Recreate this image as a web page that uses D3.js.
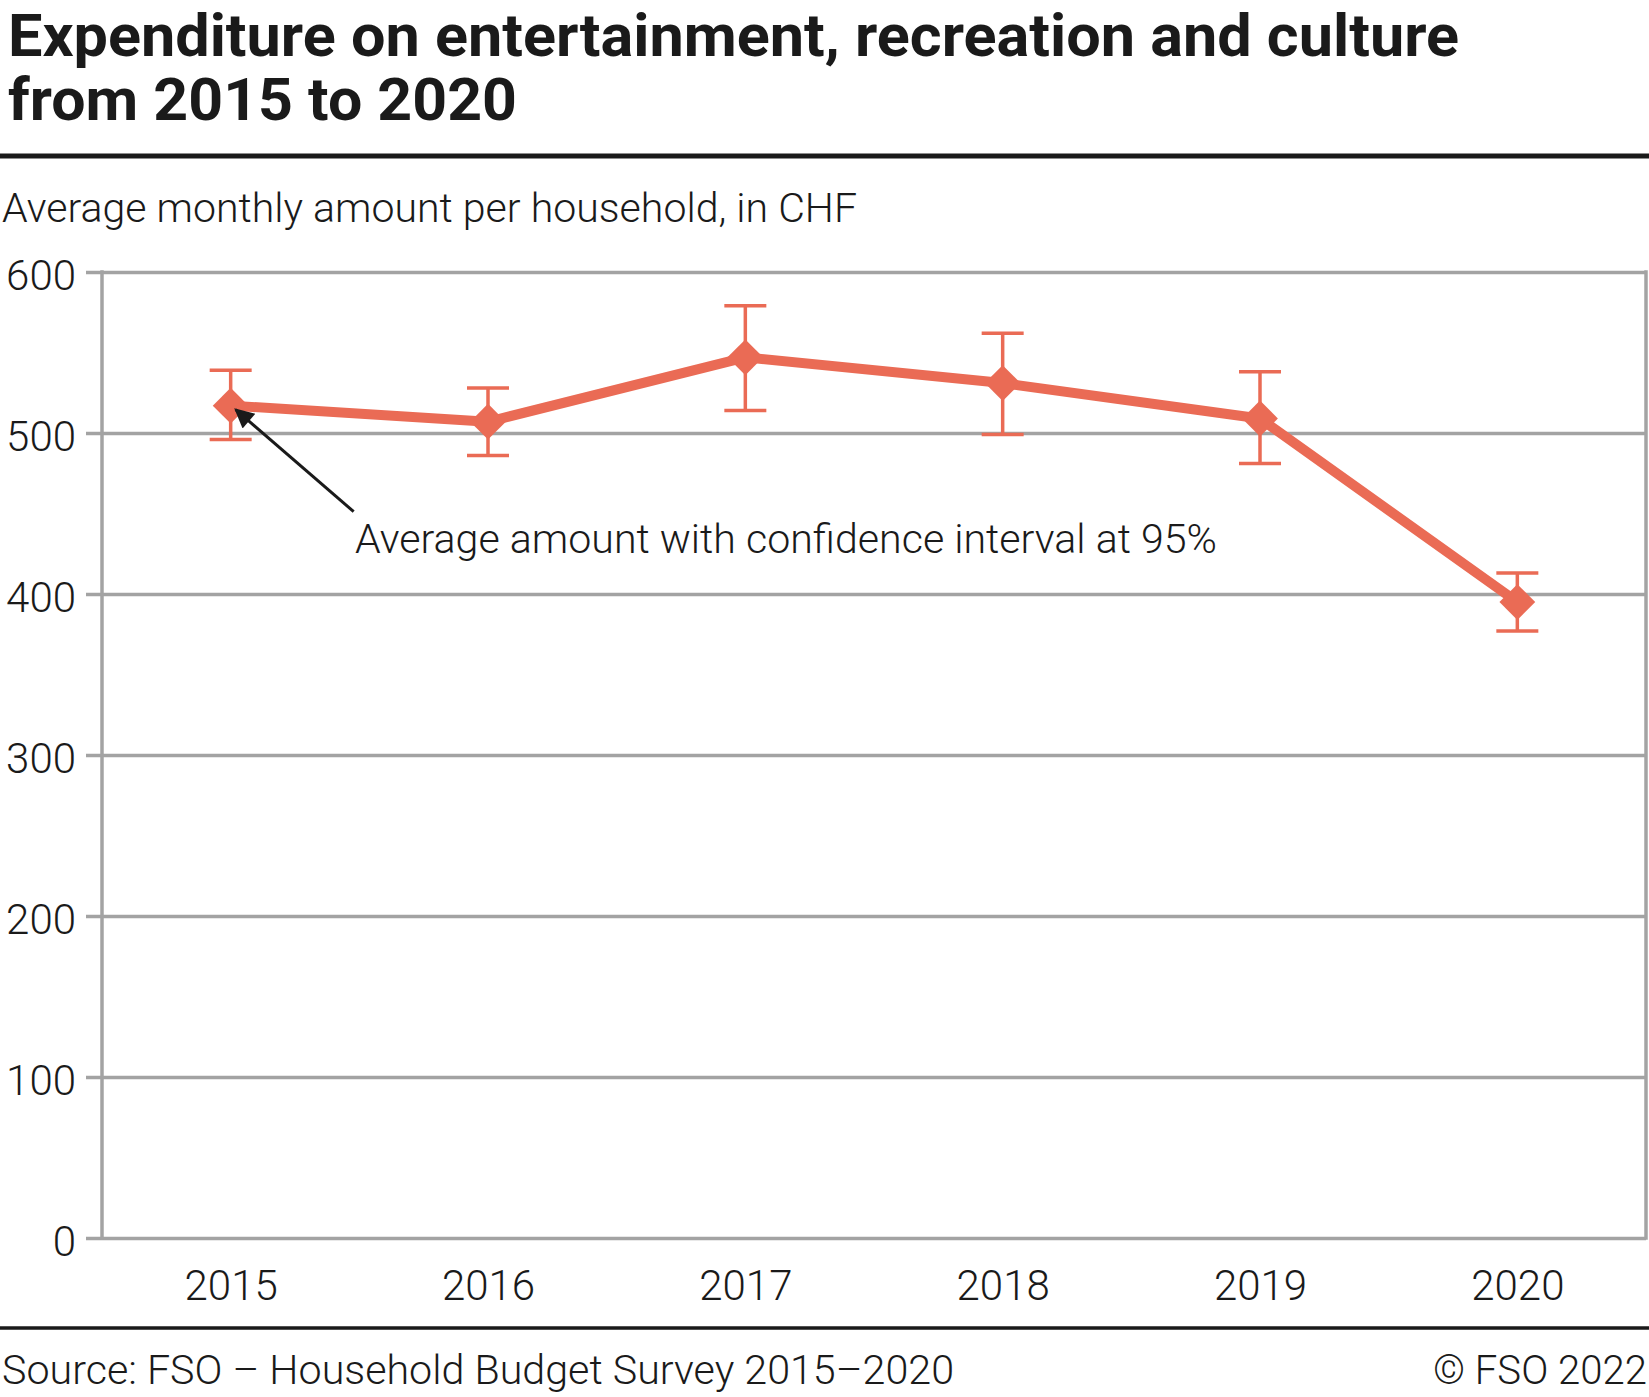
<!DOCTYPE html>
<html>
<head>
<meta charset="utf-8">
<script src="https://cdn.jsdelivr.net/npm/d3@7"></script>
<style>
  body { margin: 0; background: #fff; }
  text { font-family: Roboto, "Noto Sans", sans-serif; fill: #1a1a1a; }
</style>
</head>
<body>
<div id="chart"></div>
<script>
const years = ["2015", "2016", "2017", "2018", "2019", "2020"];
const average = [517, 507, 547, 531, 509, 395];
const ciLow = [496, 486, 514, 499, 481, 377];
const ciHigh = [539, 528, 579, 562, 538, 413];
const yTicks = [0, 100, 200, 300, 400, 500, 600];

const width = 1649;
const height = 1397;
const margin = { top: 272, right: 3, bottom: 159, left: 102 };
const color = "#ea6b55";
const gridColor = "#a3a3a3";

const data = years.map((y, i) => ({ year: y, avg: average[i], lo: ciLow[i], hi: ciHigh[i] }));

const svg = d3.select("#chart")
  .append("svg")
  .attr("width", width)
  .attr("height", height);

svg.append("rect").attr("width", width).attr("height", height).attr("fill", "#fff");

const x = d3.scalePoint()
  .domain(years)
  .range([margin.left, width - margin.right])
  .padding(0.5);

const y = d3.scaleLinear()
  .domain([0, 600])
  .range([height - margin.bottom, margin.top]);

// squeeze a text to the width it has in the picture
function fit(sel, w) {
  sel.attr("textLength", w).attr("lengthAdjust", "spacingAndGlyphs");
}

// title
svg.append("text").attr("x", 8).attr("y", 56)
  .attr("font-size", 60).attr("font-weight", 700)
  .text("Expenditure on entertainment, recreation and culture")
  .call(fit, 1451);
svg.append("text").attr("x", 8).attr("y", 120)
  .attr("font-size", 60).attr("font-weight", 700)
  .text("from 2015 to 2020")
  .call(fit, 509);

svg.append("line")
  .attr("x1", 0).attr("x2", width)
  .attr("y1", 156).attr("y2", 156)
  .attr("stroke", "#1a1a1a").attr("stroke-width", 5);

svg.append("text").attr("x", 2).attr("y", 222)
  .attr("font-size", 40).attr("font-weight", 300)
  .text("Average monthly amount per household, in CHF")
  .call(fit, 855);

// grid + y axis
const yAxis = svg.append("g")
  .attr("transform", `translate(${margin.left},0)`)
  .call(d3.axisLeft(y).tickValues(yTicks)
    .tickSize(-(width - margin.right - margin.left))
    .tickSizeOuter(0)
    .tickPadding(26));
yAxis.select(".domain").remove();
yAxis.selectAll(".tick line")
  .attr("x1", -16)
  .attr("stroke", gridColor).attr("stroke-width", 3.5);
yAxis.selectAll(".tick text")
  .attr("font-size", 42).attr("font-weight", 300)
  .attr("font-family", "Roboto, sans-serif")
  .attr("fill", "#1a1a1a")
  .attr("dy", "0.42em");

// frame
svg.append("line")
  .attr("x1", margin.left).attr("x2", margin.left)
  .attr("y1", y(600) - 1.75).attr("y2", y(0) + 1.75)
  .attr("stroke", gridColor).attr("stroke-width", 3.5);
svg.append("line")
  .attr("x1", width - margin.right).attr("x2", width - margin.right)
  .attr("y1", y(600) - 1.75).attr("y2", y(0) + 1.75)
  .attr("stroke", gridColor).attr("stroke-width", 3.5);

// x axis labels
const xAxis = svg.append("g")
  .attr("transform", `translate(0,${y(0)})`)
  .call(d3.axisBottom(x).tickSize(0).tickPadding(32));
xAxis.select(".domain").remove();
xAxis.selectAll(".tick text")
  .attr("font-size", 42).attr("font-weight", 300)
  .attr("font-family", "Roboto, sans-serif")
  .attr("fill", "#1a1a1a");

// error bars
const eb = svg.append("g").attr("stroke", color).attr("stroke-width", 3.5);
eb.selectAll(".stem").data(data).enter().append("line")
  .attr("x1", d => x(d.year)).attr("x2", d => x(d.year))
  .attr("y1", d => y(d.lo)).attr("y2", d => y(d.hi));
eb.selectAll(".capTop").data(data).enter().append("line")
  .attr("x1", d => x(d.year) - 21).attr("x2", d => x(d.year) + 21)
  .attr("y1", d => y(d.hi)).attr("y2", d => y(d.hi));
eb.selectAll(".capBot").data(data).enter().append("line")
  .attr("x1", d => x(d.year) - 21).attr("x2", d => x(d.year) + 21)
  .attr("y1", d => y(d.lo)).attr("y2", d => y(d.lo));

// line
svg.append("path")
  .datum(data)
  .attr("fill", "none")
  .attr("stroke", color)
  .attr("stroke-width", 10)
  .attr("stroke-linejoin", "round")
  .attr("d", d3.line().x(d => x(d.year)).y(d => y(d.avg)));

// diamonds
svg.selectAll(".marker").data(data).enter().append("path")
  .attr("class", "marker")
  .attr("d", d3.symbol(d3.symbolSquare, 640))
  .attr("transform", d => `translate(${x(d.year)},${y(d.avg)}) rotate(45)`)
  .attr("fill", color);

// annotation
const first = data[0];
const tipX = x(first.year) + 5;
const tipY = y(first.avg) + 4;
const tailX = x(first.year) + 123;
const tailY = y(first.avg) + 106;
svg.append("defs").append("marker")
  .attr("id", "arrow")
  .attr("viewBox", "0 0 10 10")
  .attr("refX", 9).attr("refY", 5)
  .attr("markerWidth", 9).attr("markerHeight", 6.5)
  .attr("markerUnits", "strokeWidth")
  .attr("orient", "auto")
  .append("path")
  .attr("d", "M0,0 L10,5 L0,10 Z")
  .attr("fill", "#1a1a1a");
svg.append("line")
  .attr("x1", tailX).attr("y1", tailY)
  .attr("x2", tipX).attr("y2", tipY)
  .attr("stroke", "#1a1a1a").attr("stroke-width", 3)
  .attr("marker-end", "url(#arrow)");
svg.append("text").attr("x", 355).attr("y", 553)
  .attr("font-size", 40).attr("font-weight", 300)
  .text("Average amount with confidence interval at 95%")
  .call(fit, 862);

// footer
svg.append("line")
  .attr("x1", 0).attr("x2", width)
  .attr("y1", 1328).attr("y2", 1328)
  .attr("stroke", "#1a1a1a").attr("stroke-width", 3.5);
svg.append("text").attr("x", 2).attr("y", 1384)
  .attr("font-size", 40).attr("font-weight", 300)
  .text("Source: FSO \u2013 Household Budget Survey 2015\u20132020")
  .call(fit, 952);
svg.append("text").attr("x", width - 216).attr("y", 1384)
  .attr("font-size", 40).attr("font-weight", 300)
  .text("\u00a9 FSO 2022")
  .call(fit, 214);
</script>
</body>
</html>
